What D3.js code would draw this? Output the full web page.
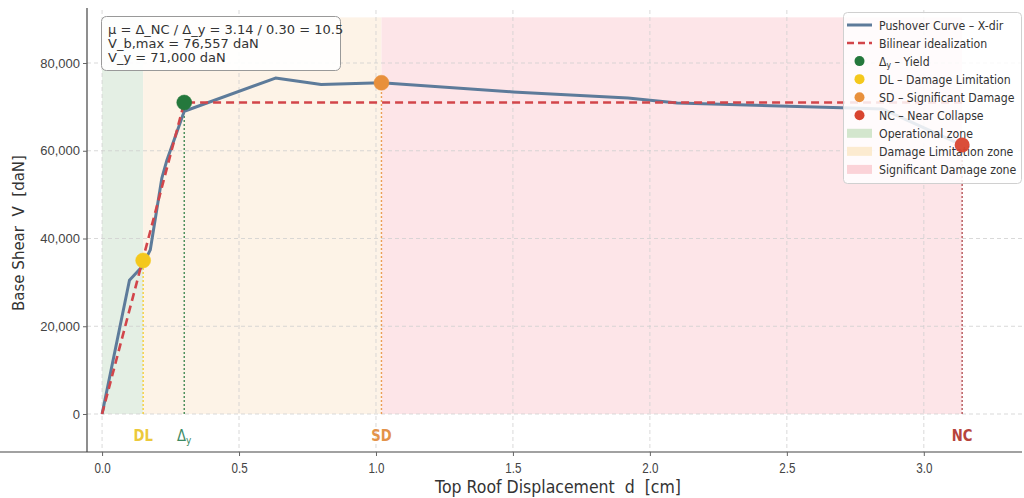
<!DOCTYPE html>
<html><head><meta charset="utf-8">
<script src="https://cdn.jsdelivr.net/npm/d3@7"></script>
<style>
body{margin:0;background:#fff;}
svg{display:block;font-family:"DejaVu Sans",sans-serif;}
</style></head>
<body><svg id="c" width="1024" height="498"></svg>
<script>
// ---- data ----
const curveD = [0, 0.10, 0.145, 0.176, 0.218, 0.237, 0.30, 0.633, 0.80, 1.02, 1.50, 1.92, 2.10, 2.70, 2.85, 3.14];
const curveV = [0, 30500, 33500, 37400, 53700, 57900, 69000, 76557, 75100, 75500, 73400, 72000, 70900, 69800, 69500, 61300];
const bilinD = [0, 0.30, 3.14];
const bilinV = [0, 71000, 71000];
const pointNames = ["Δy", "DL", "SD", "NC"];
const pointD = [0.30, 0.15, 1.02, 3.14];
const pointV = [71000, 35000, 75500, 61300];
const zoneNames = ["Operational zone", "Damage Limitation zone", "Significant Damage zone"];
const zoneFrom = [0, 0.15, 1.02];
const zoneTo = [0.15, 1.02, 3.14];
const zoneTop = 90400;
const xTicks = [0, 0.5, 1.0, 1.5, 2.0, 2.5, 3.0];
const yTicks = [0, 20000, 40000, 60000, 80000];
const annotLines = ["μ = Δ_NC / Δ_y = 3.14 / 0.30 = 10.5", "V_b,max = 76,557 daN", "V_y = 71,000 daN"];

// ---- styles ----
const ptColor = {"Δy":"#24783c","DL":"#f4c81c","SD":"#e8903c","NC":"#d8442f"};
const lblColor = {"Δy":"#3d8a63","DL":"#ecc93a","SD":"#e3934a","NC":"#b6443c"};
const zoneColor = ["#e4efe4","#fdf3e7","#fde5e8"];
const legZoneColor = ["#d3e6cd","#fcebd0","#fbd3d8"];
const blue = "#5d7b9a", red = "#d2454a";

const svg = d3.select("#c");
const L = 87, R = 1022, T = 10, B = 452;
const x = d3.scaleLinear().domain([-0.055, 3.3585]).range([L, R]);
const y = d3.scaleLinear().domain([-8661, 92080]).range([B, T]);

// zones
zoneNames.forEach((n,i)=>{
  svg.append("rect").attr("x", x(zoneFrom[i])).attr("y", y(zoneTop))
    .attr("width", x(zoneTo[i]) - x(zoneFrom[i])).attr("height", y(0) - y(zoneTop))
    .attr("fill", zoneColor[i]);
});

// grid
const g = svg.append("g");
xTicks.forEach(t=>g.append("line").attr("x1",x(t)).attr("x2",x(t)).attr("y1",T).attr("y2",B)
  .attr("stroke","#cfcfcf").attr("stroke-width",0.8).attr("stroke-dasharray","4,3"));
yTicks.forEach(t=>g.append("line").attr("x1",L).attr("x2",R).attr("y1",y(t)).attr("y2",y(t))
  .attr("stroke","#cfcfcf").attr("stroke-width",0.8).attr("stroke-dasharray","4,3"));

// vertical marker lines
pointNames.forEach((n,i)=>{
  svg.append("line").attr("x1",x(pointD[i])).attr("x2",x(pointD[i])).attr("y1",y(0)).attr("y2",y(pointV[i]))
    .attr("stroke", n==="NC" ? "#a8383a" : ptColor[n]).attr("stroke-width",1.4).attr("stroke-dasharray","2,2")
    .attr("opacity",0.85);
});

// axes
const xa = svg.append("g").attr("transform",`translate(0,${B})`)
  .call(d3.axisBottom(x).tickValues(xTicks).tickFormat(d3.format(".1f")).tickSize(4).tickSizeOuter(0));
const ya = svg.append("g").attr("transform",`translate(${L},0)`)
  .call(d3.axisLeft(y).tickValues(yTicks).tickFormat(d3.format(",")).tickSize(4).tickSizeOuter(0));
[xa,ya].forEach(a=>{
  a.select(".domain").attr("stroke","#444").attr("stroke-width",1.2);
  a.selectAll(".tick line").attr("stroke","#666");
  a.selectAll("text").attr("fill","#444").attr("font-size",13);
});
ya.select(".domain").attr("d",`M0,${B}V${T - 2}`);
xa.select(".domain").attr("d",`M0,0H${R}`);
xa.selectAll("text").attr("font-size",15.5).attr("y",7).attr("dy","0.9em").attr("transform","scale(0.75,1)");

svg.append("text").attr("transform","translate(558,493) scale(0.9,1)").attr("text-anchor","middle")
  .attr("font-size",17.5).attr("fill","#333")
  .attr("xml:space","preserve").text("Top Roof Displacement  d  [cm]");
svg.append("text").attr("transform",`translate(24,${233}) rotate(-90)`).attr("text-anchor","middle")
  .attr("font-size",15).attr("fill","#333").attr("xml:space","preserve").text("Base Shear  V  [daN]");

// curves
const line = d3.line().x(d=>x(d[0])).y(d=>y(d[1]));
svg.append("path").datum(curveD.map((d,i)=>[d,curveV[i]])).attr("d",line)
  .attr("fill","none").attr("stroke",blue).attr("stroke-width",3).attr("stroke-linejoin","round");
svg.append("path").datum(bilinD.map((d,i)=>[d,bilinV[i]])).attr("d",line)
  .attr("fill","none").attr("stroke",red).attr("stroke-width",2.6).attr("stroke-dasharray","8,5");

// points (all but NC, NC drawn after legend)
pointNames.forEach((n,i)=>{
  if(n==="NC") return;
  svg.append("circle").attr("cx",x(pointD[i])).attr("cy",y(pointV[i])).attr("r",7.5)
    .attr("fill",ptColor[n]).attr("stroke",ptColor[n]).attr("stroke-width",0.5);
});

// bottom labels
pointNames.forEach((n,i)=>{
  const t = svg.append("text").attr("transform",`translate(${x(pointD[i])},441) scale(0.85,1)`).attr("text-anchor","middle")
    .attr("font-size",15.5).attr("font-weight","bold").attr("fill",lblColor[n]);
  if(n==="Δy"){ t.attr("font-weight","normal"); t.append("tspan").text("Δ"); t.append("tspan").attr("font-size",10.5).attr("dy",3).text("y"); }
  else t.text(n);
});

// annotation box
svg.append("rect").attr("x",101.5).attr("y",16.5).attr("width",239).attr("height",54).attr("rx",5)
  .attr("fill","#fff").attr("fill-opacity",0.9).attr("stroke","#999").attr("stroke-width",1);
annotLines.forEach((s,i)=>svg.append("text").attr("x",108).attr("y",34 + i*14.2).attr("font-size",13)
  .attr("fill","#333").text(s));

// legend
const lg = svg.append("g");
lg.append("rect").attr("x",843.5).attr("y",12.5).attr("width",178).attr("height",171).attr("rx",4)
  .attr("fill","#fff").attr("fill-opacity",0.85).attr("stroke","#d0d0d0");
const items = [
  {type:"line", color:blue, label:"Pushover Curve – X-dir"},
  {type:"dash", color:red, label:"Bilinear idealization"},
  {type:"pt", color:ptColor["Δy"], label:"Δy – Yield", sub:true},
  {type:"pt", color:ptColor["DL"], label:"DL – Damage Limitation"},
  {type:"pt", color:ptColor["SD"], label:"SD – Significant Damage"},
  {type:"pt", color:ptColor["NC"], label:"NC – Near Collapse"},
  {type:"patch", color:legZoneColor[0], label:zoneNames[0]},
  {type:"patch", color:legZoneColor[1], label:zoneNames[1]},
  {type:"patch", color:legZoneColor[2], label:zoneNames[2]}
];
items.forEach((it,i)=>{
  const cy = 25 + i*18.05;
  if(it.type==="line") lg.append("line").attr("x1",847).attr("x2",872).attr("y1",cy).attr("y2",cy).attr("stroke",it.color).attr("stroke-width",3);
  if(it.type==="dash") lg.append("line").attr("x1",847).attr("x2",872).attr("y1",cy).attr("y2",cy).attr("stroke",it.color).attr("stroke-width",2.6).attr("stroke-dasharray","7,4");
  if(it.type==="pt") lg.append("circle").attr("cx",859.5).attr("cy",cy).attr("r",5).attr("fill",it.color);
  if(it.type==="patch") lg.append("rect").attr("x",847).attr("y",cy-4.5).attr("width",25).attr("height",9).attr("fill",it.color);
  const t = lg.append("text").attr("transform",`translate(879,${cy+4.5}) scale(0.9,1)`).attr("font-size",12.2).attr("fill","#333");
  if(it.sub){ t.append("tspan").text("Δ"); t.append("tspan").attr("font-size",8.5).attr("dy",2.5).text("y"); t.append("tspan").attr("dy",-2.5).text(" – Yield"); }
  else t.text(it.label);
});

// NC point on top
pointNames.forEach((n,i)=>{
  if(n!=="NC") return;
  svg.append("circle").attr("cx",x(pointD[i])).attr("cy",y(pointV[i])).attr("r",7.5)
    .attr("fill",ptColor[n]).attr("opacity",0.95);
});
</script></body></html>
